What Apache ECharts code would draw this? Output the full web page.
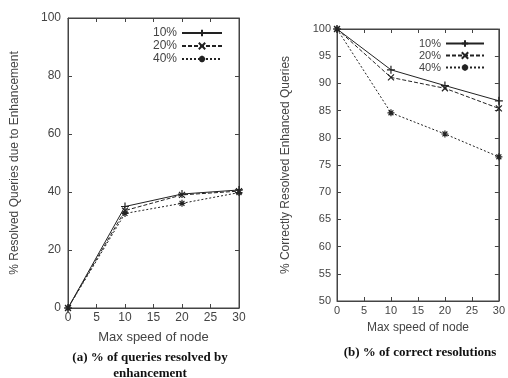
<!DOCTYPE html>
<html>
<head>
<meta charset="utf-8">
<script src="https://cdn.jsdelivr.net/npm/echarts@6/dist/echarts.min.js"></script>
<style>html,body{margin:0;padding:0;background:#fff;}#c{width:508px;height:378px;}</style>
</head>
<body>
<div id="c"></div>
<script>
var speeds = [0, 10, 20, 30];
var seriesNames = ['10%', '20%', '40%'];
// (a) % of queries resolved by enhancement
var resolved10 = [0, 35.0, 39.3, 40.7];
var resolved20 = [0, 33.6, 39.0, 40.3];
var resolved40 = [0, 32.6, 36.1, 39.8];
// (b) % of correct resolutions
var correct10 = [100, 92.5, 89.6, 86.8];
var correct20 = [100, 91.1, 89.1, 85.4];
var correct40 = [100, 84.6, 80.7, 76.5];
var xTicks = [0, 5, 10, 15, 20, 25, 30];
var yTicksA = [0, 20, 40, 60, 80, 100];
var yTicksB = [50, 55, 60, 65, 70, 75, 80, 85, 90, 95, 100];
var captionA = '(a) % of queries resolved by\nenhancement';
var captionB = '(b) % of correct resolutions';
var xName = 'Max speed of node';
var yNameA = '% Resolved Queries due to Enhancement';
var yNameB = '% Correctly Resolved Enhanced Queries';

function pairs(vals) { return speeds.map(function (s, i) { return [s, vals[i]]; }); }

var INK = '#222';
var TXT = '#444';
var PLUS = 'path://M0,5L10,5M5,0L5,10';
var CROSS = 'path://M1,1L9,9M9,1L1,9';
var STAR = 'path://M0,5L10,5M5,0L5,10M1.5,1.5L8.5,8.5M8.5,1.5L1.5,8.5';
var styles = [
  { symbol: PLUS, dash: 'solid', size: 8 },
  { symbol: CROSS, dash: [4, 2], size: 6 },
  { symbol: STAR, dash: [2, 2], size: 7 }
];

function mk(name, vals, xi, yi, k) {
  var st = styles[k];
  return {
    name: name, type: 'line', xAxisIndex: xi, yAxisIndex: yi,
    data: pairs(vals), symbol: st.symbol, symbolSize: st.size, showSymbol: true,
    lineStyle: { color: INK, width: 1, type: st.dash },
    itemStyle: { color: 'rgba(0,0,0,0)', borderColor: INK, borderWidth: 1.2 },
    animation: false, silent: true
  };
}
function dummy(xi, yi, x, y) {
  return { name: 'mirror' + xi, type: 'line', xAxisIndex: xi, yAxisIndex: yi,
    data: [[x, y]], symbol: 'none', lineStyle: { opacity: 0 }, silent: true, animation: false };
}

function xAx(grid, pos, show, fs, gap) {
  return {
    type: 'value', gridIndex: grid, position: pos, min: 0, max: 30, interval: 5,
    name: show ? xName : '', nameLocation: 'middle', nameGap: gap,
    nameTextStyle: { fontFamily: 'Liberation Sans', fontSize: fs + 1, color: TXT },
    axisLine: { show: true, onZero: false, lineStyle: { color: '#444', width: 1 } },
    axisTick: { show: true, inside: true, length: 4, lineStyle: { color: '#444' } },
    axisLabel: { show: show, fontFamily: 'Liberation Sans', fontSize: fs, color: TXT, margin: 4 },
    splitLine: { show: false }
  };
}
function yAx(grid, pos, show, min, max, interval, name, fs, gap, margin) {
  return {
    type: 'value', gridIndex: grid, position: pos, min: min, max: max, interval: interval,
    name: show ? name : '', nameLocation: 'middle', nameGap: gap,
    nameTextStyle: { fontFamily: 'Liberation Sans', fontSize: 12, color: TXT },
    axisLine: { show: true, onZero: false, lineStyle: { color: '#444', width: 1 } },
    axisTick: { show: true, inside: true, length: 4, lineStyle: { color: '#444' } },
    axisLabel: { show: show, fontFamily: 'Liberation Sans', fontSize: fs, color: TXT, margin: margin },
    splitLine: { show: false }
  };
}

var chart = echarts.init(document.getElementById('c'), null, { renderer: 'canvas' });
chart.setOption({
  backgroundColor: '#fff',
  animation: false,
  title: [
    { text: captionA, left: 150, top: 350, textAlign: 'center', padding: 0,
      textStyle: { fontFamily: 'Liberation Serif', fontWeight: 'bold', fontSize: 13, color: '#111', lineHeight: 16 } },
    { text: captionB, left: 420, top: 346, textAlign: 'center', padding: 0,
      textStyle: { fontFamily: 'Liberation Serif', fontWeight: 'bold', fontSize: 13, color: '#111' } }
  ],
  grid: [
    { left: 68, right: 269, top: 18, bottom: 70, show: true, borderColor: '#444', borderWidth: 1, backgroundColor: 'transparent' },
    { left: 337, right: 7, top: 29, bottom: 77, show: true, borderColor: '#444', borderWidth: 1, backgroundColor: 'transparent' }
  ],
  xAxis: [
    xAx(0, 'bottom', true, 12, 23),
    xAx(0, 'top', false, 12, 0),
    xAx(1, 'bottom', true, 11, 21),
    xAx(1, 'top', false, 11, 0)
  ],
  yAxis: [
    yAx(0, 'left', true, 0, 100, 20, yNameA, 12, 47, 7),
    yAx(0, 'right', false, 0, 100, 20, '', 12, 0, 0),
    yAx(1, 'left', true, 50, 100, 5, yNameB, 11, 45, 6),
    yAx(1, 'right', false, 50, 100, 5, '', 11, 0, 0)
  ],
  legend: [
    { data: seriesNames, orient: 'vertical', right: 285, top: 27, align: 'right', padding: 0,
      itemWidth: 40, itemHeight: 8, itemGap: 1, selectedMode: false,
      textStyle: { fontFamily: 'Liberation Sans', fontSize: 12, color: TXT } },
    { data: seriesNames, orient: 'vertical', right: 23, top: 38, align: 'right', padding: 0,
      itemWidth: 38, itemHeight: 8, itemGap: 1, selectedMode: false,
      textStyle: { fontFamily: 'Liberation Sans', fontSize: 11, color: TXT } }
  ],
  series: [
    mk(seriesNames[0], resolved10, 0, 0, 0),
    mk(seriesNames[1], resolved20, 0, 0, 1),
    mk(seriesNames[2], resolved40, 0, 0, 2),
    mk(seriesNames[0], correct10, 2, 2, 0),
    mk(seriesNames[1], correct20, 2, 2, 1),
    mk(seriesNames[2], correct40, 2, 2, 2),
    dummy(1, 1, 0, 0),
    dummy(3, 3, 0, 50)
  ]
});
</script>
</body>
</html>
